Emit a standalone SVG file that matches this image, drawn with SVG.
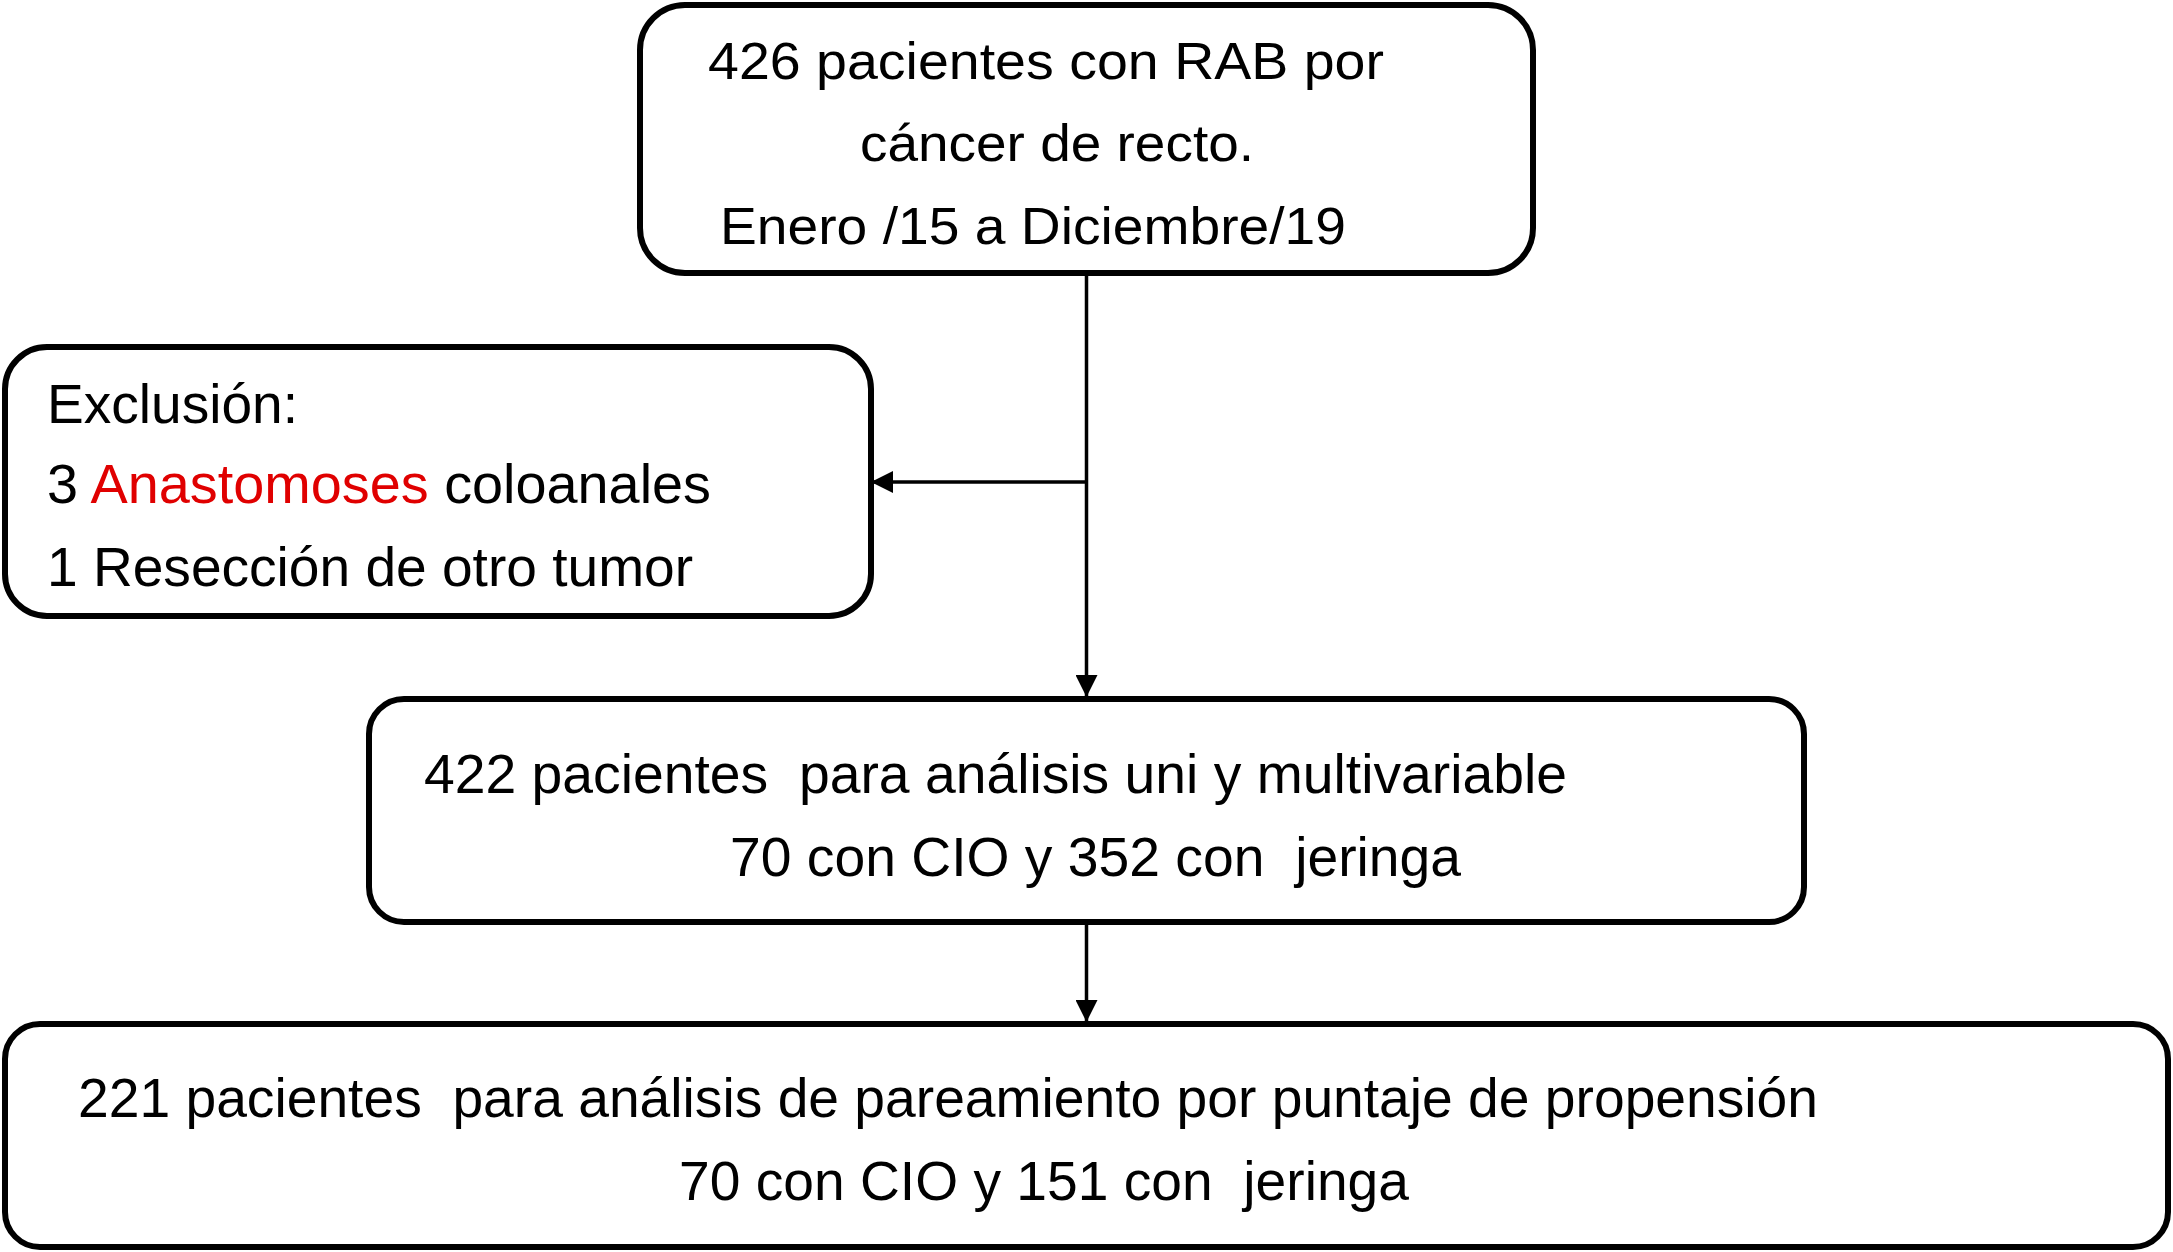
<svg xmlns="http://www.w3.org/2000/svg" width="2173" height="1252" viewBox="0 0 2173 1252">
<style>
.box{fill:#fff;stroke:#000;stroke-width:6}
.t{font-family:"Liberation Sans",Arial,sans-serif;font-size:55px;fill:#000;white-space:pre}
.t52{font-size:52px}
.red{fill:#e00000}
.conn{stroke:#000;stroke-width:3.5;fill:none}
</style>
<defs>
<marker id="arr" markerUnits="userSpaceOnUse" markerWidth="22" markerHeight="22" viewBox="0 0 22 22" refX="21" refY="11" orient="auto">
<path d="M0,0 L22,11 L0,22 Z" fill="#000"/>
</marker>
</defs>
<rect width="2173" height="1252" fill="#fff"/>
<g id="connectors">
<line class="conn" x1="1086.5" y1="273" x2="1086.5" y2="696" marker-end="url(#arr)"/>
<line class="conn" x1="1086.5" y1="482" x2="872" y2="482" marker-end="url(#arr)"/>
<line class="conn" x1="1086.5" y1="922" x2="1086.5" y2="1021" marker-end="url(#arr)"/>
</g>
<g id="node-start">
<rect class="box" x="640" y="5" width="893" height="268" rx="45"/>
<text class="t t52" x="708" y="79" textLength="676" lengthAdjust="spacingAndGlyphs">426 pacientes con RAB por</text>
<text class="t t52" x="860" y="161" textLength="394" lengthAdjust="spacingAndGlyphs">cáncer de recto.</text>
<text class="t t52" x="720" y="244" textLength="626" lengthAdjust="spacingAndGlyphs">Enero /15 a Diciembre/19</text>
</g>
<g id="node-exclusion">
<rect class="box" x="5" y="347" width="866" height="269" rx="42"/>
<text class="t" x="47" y="423" textLength="251" lengthAdjust="spacingAndGlyphs">Exclusión:</text>
<text class="t" x="47" y="503" textLength="664" lengthAdjust="spacingAndGlyphs">3 <tspan class="red">Anastomoses</tspan> coloanales</text>
<text class="t" x="47" y="586" textLength="646" lengthAdjust="spacingAndGlyphs">1 Resección de otro tumor</text>
</g>
<g id="node-analysis">
<rect class="box" x="369" y="699" width="1435" height="223" rx="35"/>
<text class="t" x="424" y="793" textLength="1143" lengthAdjust="spacingAndGlyphs">422 pacientes  para análisis uni y multivariable</text>
<text class="t" x="730" y="876" textLength="731" lengthAdjust="spacingAndGlyphs">70 con CIO y 352 con  jeringa</text>
</g>
<g id="node-matching">
<rect class="box" x="5" y="1024" width="2163" height="223" rx="35"/>
<text class="t" x="78" y="1117" textLength="1740" lengthAdjust="spacingAndGlyphs">221 pacientes  para análisis de pareamiento por puntaje de propensión</text>
<text class="t" x="679" y="1200" textLength="730" lengthAdjust="spacingAndGlyphs">70 con CIO y 151 con  jeringa</text>
</g>
</svg>
